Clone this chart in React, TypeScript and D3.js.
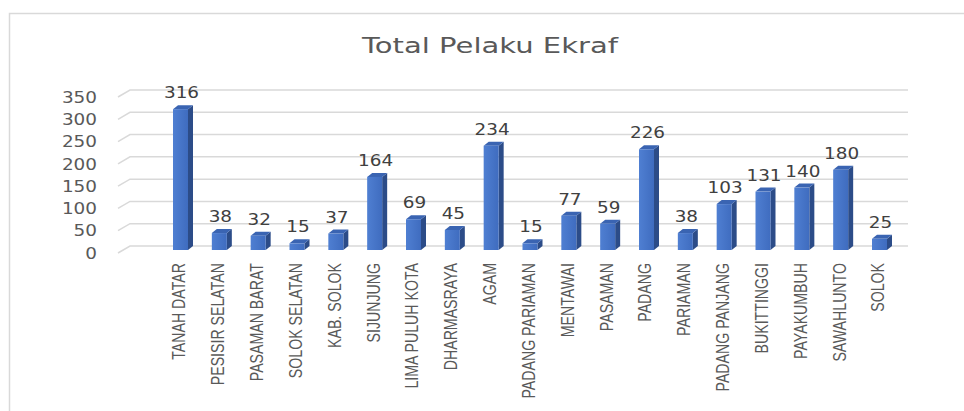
import * as React from "react"
import * as d3 from "d3"

const categories = [
  "TANAH DATAR",
  "PESISIR SELATAN",
  "PASAMAN BARAT",
  "SOLOK SELATAN",
  "KAB. SOLOK",
  "SIJUNJUNG",
  "LIMA PULUH KOTA",
  "DHARMASRAYA",
  "AGAM",
  "PADANG PARIAMAN",
  "MENTAWAI",
  "PASAMAN",
  "PADANG",
  "PARIAMAN",
  "PADANG PANJANG",
  "BUKITTINGGI",
  "PAYAKUMBUH",
  "SAWAHLUNTO",
  "SOLOK",
]
const values = [316, 38, 32, 15, 37, 164, 69, 45, 234, 15, 77, 59, 226, 38, 103, 131, 140, 180, 25]
const yTicks = [0, 50, 100, 150, 200, 250, 300, 350]
const title = "Total Pelaku Ekraf"

const width = 964
const height = 411

export default function App() {
  const svgRef = React.useRef<SVGSVGElement>(null)

  React.useEffect(() => {
    const svg = d3.select(svgRef.current)
    svg.selectAll("*").remove()

    // back wall (gridlines) and the 3D offset used for the bars
    const yBack = d3.scaleLinear().domain([0, 350]).range([246, 90])
    const x = d3.scalePoint<string>().domain(categories).range([180.5, 879.5])
    const wallLeft = 130
    const wallRight = 908
    const sideDx = 12
    const sideDy = 7
    const barW = 15
    const depthX = 5
    const depthY = 4
    const textColor = "#595959"

    // chart frame
    svg
      .append("rect")
      .attr("x", 9.5)
      .attr("y", 13.5)
      .attr("width", 980)
      .attr("height", 420)
      .attr("fill", "#fff")
      .attr("stroke", "#d9d9d9")
      .attr("stroke-width", 1.5)

    svg
      .append("text")
      .attr("x", 490)
      .attr("y", 53)
      .attr("text-anchor", "middle")
      .attr("font-family", "DejaVu Sans")
      .attr("font-size", 22)
      .attr("fill", textColor)
      .attr("textLength", 256)
      .attr("lengthAdjust", "spacingAndGlyphs")
      .text(title)

    const grid = svg.append("g")
    yTicks.forEach((t) => {
      const yb = yBack(t)
      grid
        .append("path")
        .attr("d", `M${wallLeft - sideDx},${yb + sideDy}L${wallLeft},${yb}L${wallRight},${yb}`)
        .attr("fill", "none")
        .attr("stroke", "#d9d9d9")
        .attr("stroke-width", 1.5)
      grid
        .append("text")
        .attr("transform", `translate(97,${yb + sideDy}) scale(1.15,1)`)
        .attr("dy", "0.36em")
        .attr("text-anchor", "end")
        .attr("font-family", "DejaVu Sans")
        .attr("font-size", 16)
        .attr("fill", textColor)
        .text(t)
    })

    const bars = svg.append("g")
    const defs = svg.append("defs")
    const grad = defs.append("linearGradient").attr("id", "front").attr("x1", 0).attr("x2", 1)
    grad.append("stop").attr("offset", 0).attr("stop-color", "#4f7fd2")
    grad.append("stop").attr("offset", 1).attr("stop-color", "#3f6cbf")

    categories.forEach((c, i) => {
      const v = values[i]
      const cx = x(c) as number
      const x0 = cx - barW / 2
      const x1 = cx + barW / 2
      const yb = yBack(0) + depthY
      const yt = yBack(v) + depthY
      const g = bars.append("g")
      g.append("path")
        .attr("d", `M${x1},${yt}L${x1 + depthX},${yt - depthY}L${x1 + depthX},${yb - depthY}L${x1},${yb}Z`)
        .attr("fill", "#2c4c88")
      g.append("path")
        .attr("d", `M${x0},${yt}L${x0 + depthX},${yt - depthY}L${x1 + depthX},${yt - depthY}L${x1},${yt}Z`)
        .attr("fill", "#3a64b2")
      g.append("rect")
        .attr("x", x0)
        .attr("y", yt)
        .attr("width", barW)
        .attr("height", yb - yt)
        .attr("fill", "url(#front)")
      g.append("text")
        .attr("transform", `translate(${cx + 1},${yt - 11}) scale(1.15,1)`)
        .attr("text-anchor", "middle")
        .attr("font-family", "DejaVu Sans")
        .attr("font-size", 16)
        .attr("fill", "#404040")
        .text(v)

      svg
        .append("text")
        .attr("transform", `translate(${cx - 1.5},263) rotate(-90) scale(0.885,1.1)`)
        .attr("dy", "0.36em")
        .attr("text-anchor", "end")
        .attr("font-family", "Liberation Sans")
        .attr("font-size", 16)
        .attr("fill", textColor)
        .text(c)
    })
  }, [])

  return (
    <div style={{ position: "fixed", left: 0, top: 0, width, height, background: "#fff" }}>
      <svg ref={svgRef} width={width} height={height} />
    </div>
  )
}
